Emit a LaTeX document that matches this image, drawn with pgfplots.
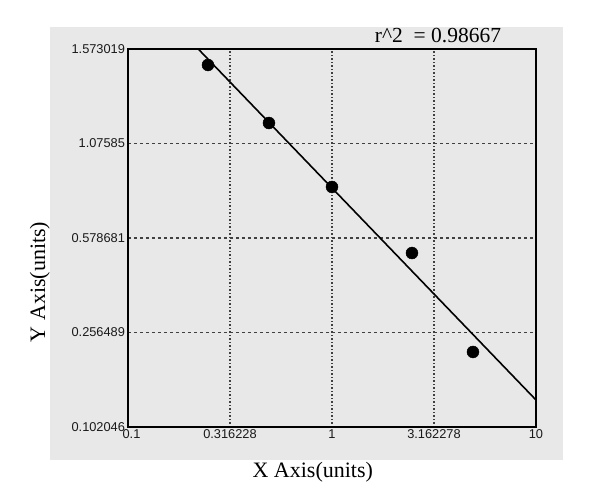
\documentclass[border=0pt]{standalone}
\usepackage{fontspec}
\setmainfont{Liberation Serif}
\newfontfamily\ticksf{Liberation Sans}
\usepackage{pgfplots}
\pgfplotsset{compat=1.18}
\definecolor{panel}{RGB}{232,232,232}
\begin{document}
\begin{tikzpicture}[x=1pt,y=1pt]
\path[use as bounding box] (0,0) rectangle (595,-499);
\fill[panel] (50,-27) rectangle (563,-460);
\begin{axis}[
  at={(128pt,-427pt)}, anchor=south west,
  scale only axis, width=408pt, height=378pt,
  xmode=log, xmin=0.1, xmax=10, ymin=0, ymax=4,
  xtick={0.1,0.316228,1,3.162278,10},
  xticklabels={\hspace*{7pt}0.1,0.316228,1,3.162278,10},
  ytick={0,1,2,3,4},
  yticklabels={0.102046,0.256489,0.578681,1.07585,1.573019},
  minor tick num=0,
  major tick length=0pt,
  ticklabel style={font=\ticksf\fontsize{12.8}{13}\selectfont, text=black!90},
  xticklabel style={yshift=1pt},
  yticklabel style={xshift=0.5pt},
  grid=major,
  x grid style={black!75, line width=1.1pt, dash pattern=on 1.5pt off 2pt},
  y grid style={black!75, line width=1.1pt, dash pattern=on 3pt off 3pt},
  axis line style={black, line width=1.5pt},
  axis background/.style={fill=panel},
  xlabel={X Axis(units)}, ylabel={Y Axis(units)},
  label style={font=\fontsize{22}{24}\selectfont},
  xlabel style={at={(axis description cs:0.453,-0.119)}, anchor=center},
  ylabel style={at={(axis description cs:-0.216,0.384)}, anchor=center},
  clip=true,
]
\addplot[black, line width=1.6pt] coordinates {(0.221,4) (10,0.286)};
\addplot[only marks, mark=*, mark size=6pt, black] coordinates {
 (0.2466,3.831) (0.491,3.217) (1.0,2.540) (2.466,1.841) (4.91,0.794)};
\end{axis}
\node[font=\fontsize{21.5}{23}\selectfont] at (438,-35) {r\^{}2\ \ = 0.98667};
\end{tikzpicture}
\end{document}
